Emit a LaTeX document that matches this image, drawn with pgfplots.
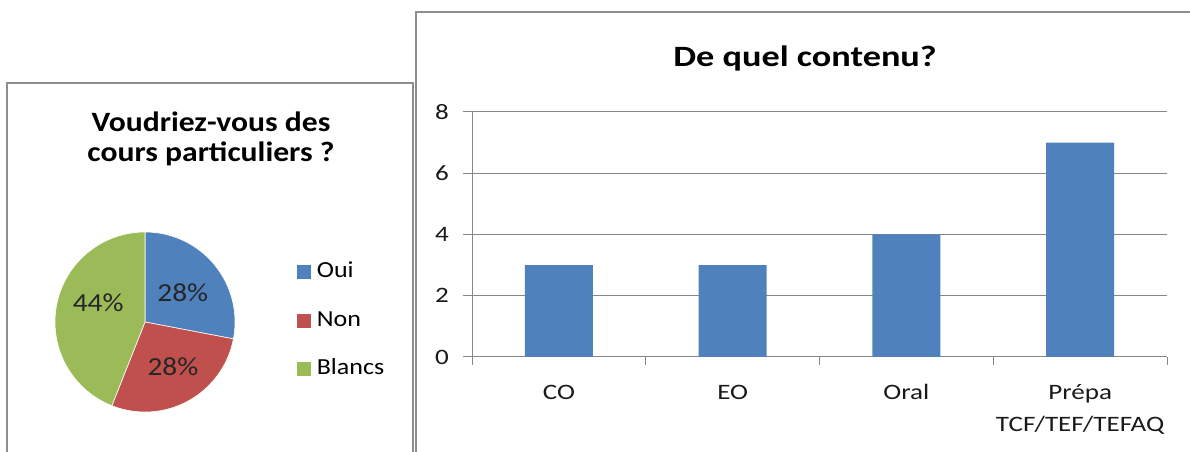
\documentclass[border=0pt]{standalone}
\usepackage{fontspec}
\setmainfont{Carlito}
\newfontfamily\barfont[FakeStretch=1.23]{Carlito}
\newfontfamily\piefont[FakeStretch=1.13]{Carlito}
\usepackage{pgfplots}
\pgfplotsset{compat=1.18}
\usepackage{pgfplotstable}
\definecolor{cblue}{HTML}{4F81BD}
\definecolor{cred}{HTML}{C0504D}
\definecolor{cgreen}{HTML}{9BBB59}
\definecolor{gridc}{HTML}{878787}
\definecolor{framec}{HTML}{8E8E8E}
\newcommand\fs{\rule{0pt}{17bp}}

\pgfplotstableread{
idx value
0 3
1 3
2 4
3 7
}\bardata

\begin{document}
\begin{tikzpicture}[x=1bp,y=1bp]
\useasboundingbox (0,0) rectangle (1190,452);
\begin{scope}
\clip (0,0) rectangle (1190,452);
\draw[framec, line width=2bp] (7,-20) -- (7,369) -- (413,369) -- (413,-20);
\draw[framec, line width=2bp] (416,-20) -- (416,440) -- (1200,440);
\end{scope}

% titles
\node[anchor=base, font=\piefont\fontsize{28bp}{32bp}\selectfont\bfseries] at (211,320) {Voudriez-vous des};
\node[anchor=base, font=\piefont\fontsize{28bp}{32bp}\selectfont\bfseries] at (211,290) {cours particuliers ?};
\node[anchor=base, font=\barfont\fontsize{29.5bp}{33bp}\selectfont\bfseries] at (805,385) {De quel contenu?};

% pie chart: Oui 28, Non 28, Blancs 44 (percent)
\begin{axis}[at={(55bp,40bp)}, anchor=south west, width=180bp, height=180bp,
  scale only axis, xmin=-1, xmax=1, ymin=-1, ymax=1, hide axis, clip=false,
  legend style={draw=none, fill=none, inner sep=0pt, at={(axis cs:1.678,0.66)}, anchor=north west,
    font=\piefont\fontsize{23bp}{27bp}\selectfont, row sep=29.5bp,
    nodes={inner sep=0pt, text height=15bp, text depth=4bp},
    /tikz/every odd column/.append style={column sep=5bp}},
  legend cell align=left,
  legend image code/.code={\fill[#1] (0bp,-7.5bp) rectangle (15bp,7.5bp);}]
\addplot[fill=cblue, draw=white, line width=0.6bp, domain=90:-10.8, samples=90, variable=\t]
  ({cos(\t)},{sin(\t)}) -- (axis cs:0,0) -- cycle;
\addlegendentry{Oui}
\addplot[fill=cred, draw=white, line width=0.6bp, domain=-10.8:-111.6, samples=90, variable=\t]
  ({cos(\t)},{sin(\t)}) -- (axis cs:0,0) -- cycle;
\addlegendentry{Non}
\addplot[fill=cgreen, draw=white, line width=0.6bp, domain=-111.6:-270, samples=120, variable=\t]
  ({cos(\t)},{sin(\t)}) -- (axis cs:0,0) -- cycle;
\addlegendentry{Blancs}
\node[font=\piefont\fontsize{26bp}{30bp}\selectfont, text=black!85] at (axis cs:0.42,0.32) {28\%};
\node[font=\piefont\fontsize{26bp}{30bp}\selectfont, text=black!85] at (axis cs:0.31,-0.50) {28\%};
\node[font=\piefont\fontsize{26bp}{30bp}\selectfont, text=black!85] at (axis cs:-0.52,0.21) {44\%};
\end{axis}

% bar chart
\begin{axis}[at={(472bp,95bp)}, anchor=south west, width=695bp, height=245bp,
  scale only axis, xmin=-0.5, xmax=3.5, ymin=0, ymax=8,
  ytick={0,2,4,6,8}, xtick={0,1,2,3},
  xticklabels={{\fs CO},{\fs EO},{\fs Oral},{\fs Prépa\\TCF/TEF/TEFAQ}},
  minor xtick={-0.5,0.5,1.5,2.5,3.5},
  axis x line*=bottom, axis y line*=left,
  axis line style={gridc, line width=1bp, -},
  ymajorgrids, grid style={gridc, line width=1bp},
  tick align=outside, major tick length=9bp, minor tick length=8bp,
  tick style={gridc, line width=1bp},
  major x tick style={draw=none},
  /pgf/number format/assume math mode=true,
  ticklabel style={font=\barfont\fontsize{22bp}{32bp}\selectfont, text=black!90},
  xticklabel style={align=center, anchor=north, inner sep=0pt, yshift=-16bp},
  yticklabel style={inner sep=0pt, xshift=-14bp},
  ybar, bar width=68bp]
\addplot[fill=cblue, draw=none] table[x=idx, y=value] {\bardata};
\end{axis}
\end{tikzpicture}
\end{document}
